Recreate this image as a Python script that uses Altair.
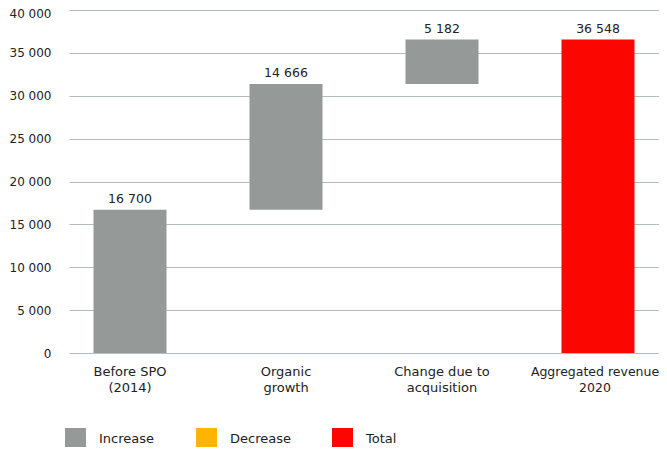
import altair as alt
import pandas as pd

categories = ["Before SPO\n(2014)", "Organic\ngrowth", "Change due to\nacquisition", "Aggregated revenue\n2020"]
values = [16700, 14666, 5182, 36548]
kinds = ["Increase", "Increase", "Increase", "Total"]
labels = ["16 700", "14 666", "5 182", "36 548"]

legend_domain = ["Increase", "Decrease", "Total"]
legend_colors = ["#959a99", "#ffb400", "#fb0600"]

rows = []
running = 0
for c, v, k, l in zip(categories, values, kinds, labels):
    if k == "Total":
        start, end = 0, v
    else:
        start, end = running, running + v
        running = end
    rows.append({"cat": c, "start": start, "end": end, "kind": k, "label": l})
df = pd.DataFrame(rows)

FONT = "DejaVu Sans"
last_test = "indexof(datum.value, 'Aggregated') >= 0"

x = alt.X("cat:N", sort=categories, title=None,
          scale=alt.Scale(paddingInner=0.532, paddingOuter=0.157),
          axis=alt.Axis(labelExpr="split(datum.value, '\\n')", labelAngle=0,
                        domain=False, ticks=False, labelPadding=12,
                        labelFontSize={"condition": {"test": last_test, "value": 12.5}, "value": 13},
                        labelOffset={"condition": {"test": last_test, "value": -3}, "value": 0},
                        labelFont=FONT, labelColor="#222222",
                        labelLineHeight=16))

bars = alt.Chart(df).mark_bar().encode(
    x=x,
    y=alt.Y("start:Q", title=None,
            scale=alt.Scale(domain=[0, 40000], nice=False),
            axis=alt.Axis(values=list(range(0, 40001, 5000)),
                          labelExpr="replace(format(datum.value, ','), regexp(',', 'g'), ' ')",
                          domain=False, ticks=False, labelPadding=18,
                          labelOffset={"condition": {"test": "datum.value == 40000", "value": 3}, "value": 0},
                          labelFontSize=12, labelFont=FONT, labelColor="#222222",
                          grid=True, gridColor="#b4bcc0", gridWidth=1)),
    y2="end:Q",
    color=alt.Color("kind:N",
                    scale=alt.Scale(domain=legend_domain, range=legend_colors),
                    legend=alt.Legend(title=None, orient="none", direction="horizontal",
                                      legendX=-4, legendY=418,
                                      symbolType="square", symbolSize=441,
                                      symbolStrokeWidth=0, symbolOpacity=1,
                                      labelFontSize=13, labelFont=FONT, labelColor="#222222",
                                      labelOffset=13, columnPadding=41)),
)

text = alt.Chart(df).mark_text(baseline="bottom", dy=-4, fontSize=12.5, font=FONT,
                               color="#222222").encode(
    x=alt.X("cat:N", sort=categories),
    y=alt.Y("end:Q"),
    text="label:N",
)

chart = (bars + text).properties(
    width=590, height=343,
    padding={"left": 61, "top": 2, "right": 0, "bottom": 94},
    autosize=alt.AutoSizeParams(type="none"),
).configure_view(stroke=None)

chart.save("out.html", embed_options={"renderer": "svg", "actions": False})
